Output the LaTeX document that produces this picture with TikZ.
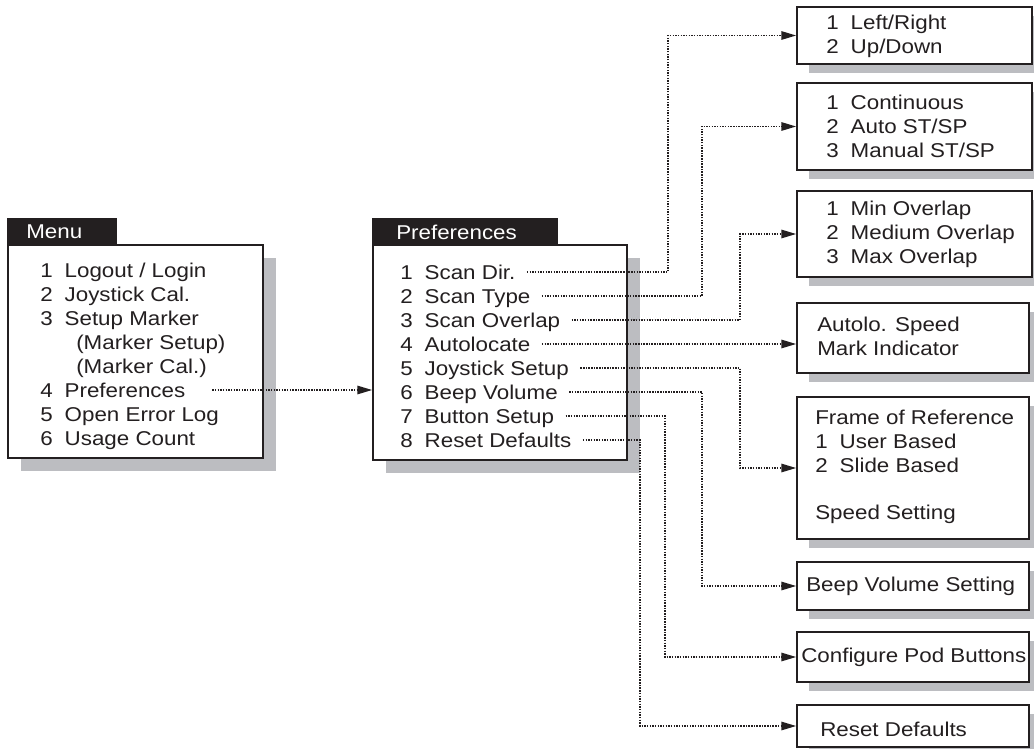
\documentclass[tikz,border=0pt]{standalone}
\usepackage{fontspec}
\setmainfont{Liberation Sans}[FakeStretch=1.12]
\usetikzlibrary{arrows.meta,fit,shadows}

\definecolor{ink}{RGB}{35,31,32}
\definecolor{shadowgray}{RGB}{188,189,193}
\newcommand{\itemgap}{\hspace{0.6em}}

\tikzset{
  box/.style={draw=ink, line width=1.2pt, fill=white, inner sep=0pt},
  bigbox/.style={box, drop shadow={shadow xshift=0.325cm, shadow yshift=-0.325cm, fill=shadowgray, opacity=1}},
  smallbox/.style={box, drop shadow={shadow xshift=0.3cm, shadow yshift=-0.225cm, fill=shadowgray, opacity=1}},
  tab/.style={fill=ink, draw=ink, line width=1.2pt, inner sep=0pt},
  txt/.style={font=\fontsize{14.2}{17}\selectfont, text=ink, inner sep=0pt, anchor=west, align=left},
  item/.style={txt, text height=10pt, text depth=0pt},
  link/.style={ink, line width=1pt, dash pattern=on 1pt off 0.9pt, -{Triangle[length=10.5pt,width=6pt]}}
}

\begin{document}
\begin{tikzpicture}[x=0.025cm, y=-0.025cm]
\useasboundingbox (0,0) rectangle (1034,749);

% main menu
\node[bigbox, fit={(8,245) (263,458)}] (menu) {};
\node[tab, fit={(8,219) (116,245)}] (menutab) {};
\node[txt, text=white] (menutitle) at (26,232) {Menu};
\node[item] (m1) at (40,270) {1\itemgap Logout / Login};
\node[item] (m2) at (40,294) {2\itemgap Joystick Cal.};
\node[item] (m3) at (40,318) {3\itemgap Setup Marker};
\node[item] (m3a) at (76,342) {(Marker Setup)};
\node[item] (m3b) at (76,366) {(Marker Cal.)};
\node[item] (m4) at (40,390) {4\itemgap Preferences};
\node[item] (m5) at (40,414) {5\itemgap Open Error Log};
\node[item] (m6) at (40,438) {6\itemgap Usage Count};

% preferences menu
\node[bigbox, fit={(373,245) (627,460)}] (prefs) {};
\node[tab, fit={(373,219) (557,245)}] (prefstab) {};
\node[txt, text=white] (prefstitle) at (396,232) {Preferences};
\foreach \t [count=\i] in {Scan Dir., Scan Type, Scan Overlap, Autolocate, Joystick Setup, Beep Volume, Button Setup, Reset Defaults}
  \node[item] (p\i) at (400,{248+24*\i}) {\i\itemgap\t};

% sub menus
\node[smallbox, fit={(797,7) (1032,64)}] (b1) {};
\node[txt] (t1) at (826,36) {1\itemgap Left/Right\\2\itemgap Up/Down};
\node[smallbox, fit={(797,83) (1032,170)}] (b2) {};
\node[txt] (t2) at (826,126) {1\itemgap Continuous\\2\itemgap Auto ST/SP\\3\itemgap Manual ST/SP};
\node[smallbox, fit={(797,191) (1032,277)}] (b3) {};
\node[txt] (t3) at (826,234) {1\itemgap Min Overlap\\2\itemgap Medium Overlap\\3\itemgap Max Overlap};
\node[smallbox, fit={(797,303) (1029,373)}] (b4) {};
\node[txt] (t4) at (817,336) {Autolo. Speed\\Mark Indicator};
\node[smallbox, fit={(797,397) (1029,539)}] (b5) {};
\node[txt] (t5) at (815,467) {Frame of Reference\\1\itemgap User Based\\2\itemgap Slide Based\\[17pt]Speed Setting};
\node[smallbox, fit={(797,562) (1029,610)}] (b6) {};
\node[txt] (t6) at (806,586) {Beep Volume Setting};
\node[smallbox, fit={(797,632) (1029,682)}] (b7) {};
\node[txt] (t7) at (801,657) {Configure Pod Buttons};
\node[smallbox, fit={(797,705) (1029,747)}] (b8) {};
\node[txt] (t8) at (820,729) {Reset Defaults};

% bus columns
\coordinate (c1) at (668,0);
\coordinate (c2) at (702,0);
\coordinate (c3) at (740,0);
\coordinate (c7) at (665,0);
\coordinate (c8) at (640,0);

% links
\draw[link] ([xshift=19pt]m4.east) -- (m4.east -| prefs.west);
\draw[link] ([xshift=8pt]p1.east) -| (c1 |- b1.west) -- (b1.west);
\draw[link] ([xshift=8pt]p2.east) -| (c2 |- b2.west) -- (b2.west);
\draw[link] ([xshift=8pt]p3.east) -| (c3 |- b3.west) -- (b3.west);
\draw[link] ([xshift=8pt]p4.east) -- (p4.east -| b4.west);
\draw[link] ([xshift=8pt]p5.east) -| (c3 |- b5.west) -- (b5.west);
\draw[link] ([xshift=8pt]p6.east) -| (c2 |- b6.west) -- (b6.west);
\draw[link] ([xshift=8pt]p7.east) -| (c7 |- b7.west) -- (b7.west);
\draw[link] ([xshift=8pt]p8.east) -| (c8 |- b8.west) -- (b8.west);
\end{tikzpicture}
\end{document}
